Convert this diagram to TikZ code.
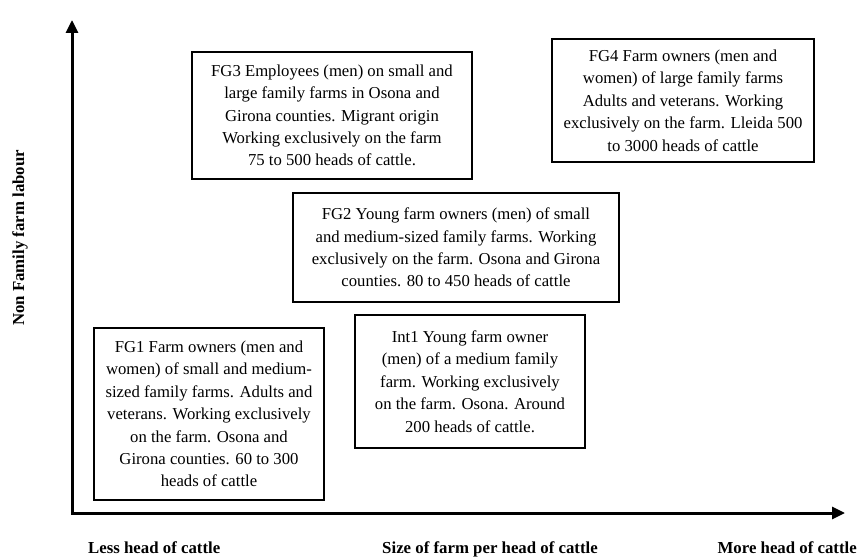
\documentclass[tikz,border=0pt]{standalone}
\usepackage{fontspec}
\setmainfont{Liberation Serif}
\usetikzlibrary{arrows.meta}
\tikzset{
  box/.style={draw=black, line width=2.8pt, fill=white, inner sep=0pt, align=center,
    font=\fontsize{16.7}{22.4}\selectfont},
  axis/.style={line width=3pt, line join=miter, {Triangle[length=13pt,width=12pt]}-{Triangle[length=13pt,width=12pt]}},
  axlabel/.style={font=\fontsize{16.8}{20}\selectfont\bfseries, inner sep=0pt}
}
\begin{document}
\begin{tikzpicture}[x=1pt,y=-1pt]
\useasboundingbox (0,0) rectangle (858,556);
\coordinate (ytip) at (72,20);
\coordinate (origin) at (72,513);
\coordinate (xtip) at (845,513);
\draw[axis] (ytip) -- (origin) -- (xtip);

\node[box, minimum width=280pt, minimum height=127pt] (fg3) at (332,115.5)
  {FG3 Employees (men) on small and\\ large family farms in Osona and\\ Girona counties. Migrant origin\\ Working exclusively on the farm\\ 75 to 500 heads of cattle.};
\node[box, minimum width=262pt, minimum height=123pt] (fg4) at (683,100.5)
  {FG4 Farm owners (men and\\ women) of large family farms\\ Adults and veterans. Working\\ exclusively on the farm. Lleida 500\\ to 3000 heads of cattle};
\node[box, minimum width=326pt, minimum height=109pt] (fg2) at (456,247.5)
  {FG2 Young farm owners (men) of small\\ and medium-sized family farms. Working\\ exclusively on the farm. Osona and Girona\\ counties. 80 to 450 heads of cattle};
\node[box, minimum width=230pt, minimum height=172pt] (fg1) at (209,414)
  {FG1 Farm owners (men and\\ women) of small and medium-\\ sized family farms. Adults and\\ veterans. Working exclusively\\ on the farm. Osona and\\ Girona counties. 60 to 300\\ heads of cattle};
\node[box, minimum width=230pt, minimum height=133pt] (int1) at (470,381.5)
  {Int1 Young farm owner\\ (men) of a medium family\\ farm. Working exclusively\\ on the farm. Osona. Around\\ 200 heads of cattle.};

\node[axlabel, anchor=base west] (less) at (88,553) {Less head of cattle};
\node[axlabel, anchor=base] (size) at (490,553) {Size of farm per head of cattle};
\node[axlabel, anchor=base east] (more) at (857,553) {More head of cattle};
\node[axlabel, rotate=90, anchor=base] (nonfam) at (24,238) {Non Family farm labour};
\end{tikzpicture}
\end{document}
